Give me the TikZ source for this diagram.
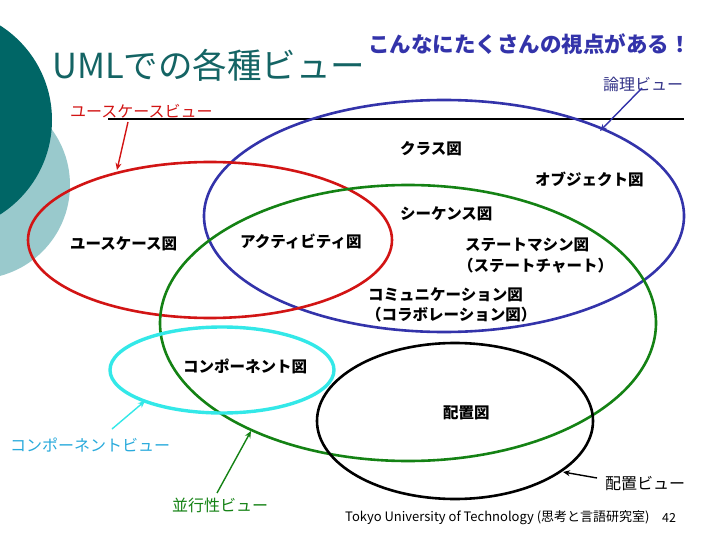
\documentclass[tikz,border=0pt]{standalone}
\usepackage{fontspec}
\setmainfont{Noto Sans CJK JP}
\usetikzlibrary{arrows.meta}
\definecolor{tealdark}{RGB}{0,102,102}
\definecolor{teallight}{RGB}{153,201,204}
\definecolor{titlec}{RGB}{20,100,100}
\definecolor{blueE}{RGB}{51,51,170}
\definecolor{blueT}{RGB}{51,51,136}
\definecolor{redE}{RGB}{210,20,20}
\definecolor{greenE}{RGB}{20,130,20}
\definecolor{cyanE}{RGB}{51,232,232}
\definecolor{cyanT}{RGB}{40,170,220}
\begin{document}
\begin{tikzpicture}[x=1pt,y=-1pt,
  lbl/.style={anchor=west,inner sep=0pt,font=\fontsize{15.5}{18}\selectfont\bfseries},
  viewlbl/.style={anchor=west,inner sep=0pt,font=\fontsize{16}{19}\selectfont},
  ell/.style={line width=2.6pt},
  pointer/.style={line width=1.4pt,-{Stealth[length=7pt,width=6pt]}}]
\useasboundingbox (0,0) rectangle (720,540);
\fill[white] (0,0) rectangle (720,540);
\begin{scope}
\clip (0,0) rectangle (720,540);
\fill[teallight] (-24,185) circle (94);
\fill[tealdark] (-60,120) circle (112);
\end{scope}

% title
\node[anchor=west,inner sep=0pt,text=titlec,font=\fontsize{34.5}{40}\selectfont] (title) at (52,65) {UMLでの各種ビュー};
\node[anchor=west,inner sep=0pt,text=blueE,font=\fontsize{21.5}{25}\selectfont\bfseries] (sub) at (368,44) {こんなにたくさんの視点がある！};

% horizontal rule
\coordinate (ruleL) at (108,119);
\coordinate (ruleR) at (684,119);
\draw[line width=1.6pt] (ruleL) -- (ruleR);

% ellipse centres
\coordinate (cBlue) at (444,216);
\coordinate (cRed) at (210,240);
\coordinate (cGreen) at (408,323);
\coordinate (cCyan) at (222,370);
\coordinate (cBlack) at (455,421);

\draw[ell,blueE] (cBlue) ellipse (240 and 116);
\draw[ell,redE] (cRed) ellipse (182 and 78);
\draw[ell,greenE] (cGreen) ellipse (248 and 138);
\draw[ell,cyanE,line width=3.4pt] (cCyan) ellipse (112 and 43);
\draw[ell,black] (cBlack) ellipse (138 and 78);

% diagram labels
\node[lbl] (cls) at (400,149) {クラス図};
\node[lbl] (obj) at (535,179) {オブジェクト図};
\node[lbl] (seq) at (400,214) {シーケンス図};
\node[lbl] (stm) at (465,245) {ステートマシン図};
\node[lbl] (stc) at (458,266) {（ステートチャート）};
\node[lbl] (com) at (368,295) {コミュニケーション図};
\node[lbl] (col) at (366,315) {（コラボレーション図）};
\node[lbl] (ucz) at (70,244) {ユースケース図};
\node[lbl] (act) at (240,241) {アクティビティ図};
\node[lbl] (cmp) at (183,366) {コンポーネント図};
\node[lbl] (dep) at (443,413) {配置図};

% view labels
\node[viewlbl,text=blueT] (lv) at (603,84) {論理ビュー};
\node[viewlbl,text=redE] (ucv) at (70,111) {ユースケースビュー};
\node[viewlbl,text=cyanT] (cpv) at (10,445) {コンポーネントビュー};
\node[viewlbl,text=greenE] (ccv) at (172,505) {並行性ビュー};
\node[viewlbl,text=black] (dpv) at (605,484) {配置ビュー};

% pointers
\coordinate (lvA) at (642,88);
\coordinate (lvB) at (600,131);
\draw[pointer,blueE] (lvA) -- (lvB);
\coordinate (ucvA) at (128,122);
\coordinate (ucvB) at (117,170);
\draw[pointer,redE] (ucvA) -- (ucvB);
\coordinate (cpvA) at (112,429);
\coordinate (cpvB) at (145,401);
\draw[pointer,cyanE] (cpvA) -- (cpvB);
\coordinate (ccvA) at (217,493);
\coordinate (ccvB) at (251,431);
\draw[pointer,greenE] (ccvA) -- (ccvB);
\coordinate (dpvA) at (597,478);
\coordinate (dpvB) at (563,472);
\draw[pointer,black] (dpvA) -- (dpvB);

% footer
\node[anchor=west,inner sep=0pt,font=\fontsize{13}{15}\selectfont] (foot) at (345,518) {Tokyo University of Technology (思考と言語研究室)};
\node[anchor=west,inner sep=0pt,font=\fontsize{12.5}{15}\selectfont] (page) at (662,518) {42};
\end{tikzpicture}
\end{document}
